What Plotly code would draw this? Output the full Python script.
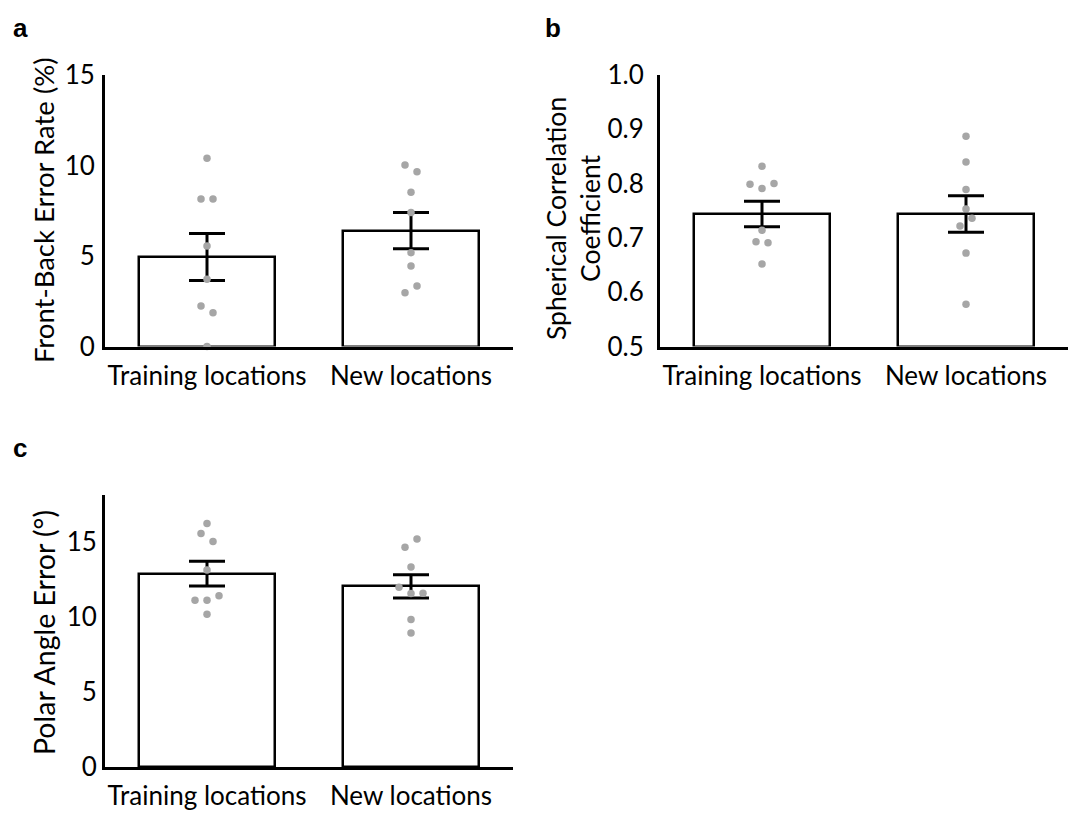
import plotly.graph_objects as go

# ---------------- data ----------------
categories = ["Training locations", "New locations"]

# Panel a: Front-Back error rate (%)
a_means = [4.95, 6.40]
a_sems = [1.30, 1.00]
a_train = [10.4, 8.15, 8.15, 5.55, 3.71, 2.24, 1.87, 0.0]
a_new = [10.03, 9.66, 8.52, 7.41, 5.18, 4.45, 2.97, 3.34]

# Panel b: Spherical correlation coefficient
b_means = [0.744, 0.744]
b_sems = [0.0235, 0.0335]
b_train = [0.832, 0.799, 0.791, 0.800, 0.714, 0.693, 0.691, 0.652]
b_new = [0.887, 0.840, 0.789, 0.753, 0.722, 0.736, 0.672, 0.578]

# Panel c: Polar angle error (deg)
c_means = [12.87, 12.02]
c_sems = [0.82, 0.78]
c_train = [16.2, 15.53, 15.0, 13.11, 11.09, 11.09, 11.40, 10.16]
c_new = [14.62, 15.17, 13.31, 11.96, 11.54, 11.56, 9.81, 8.92]

a_ticks = [0, 5, 10, 15]
b_ticks = [0.5, 0.6, 0.7, 0.8, 0.9, 1.0]
c_ticks = [0, 5, 10, 15]

# ---------------- layout constants ----------------
W, H = 1072, 814
FONT = "Lato"
DOT = "#a6a6a6"

xa_dom = [105 / W, 513 / W]
xb_dom = [660 / W, 1068 / W]
y_top = [1 - 346.5 / H, 1 - 75 / H]
y_bot = [1 - 767 / H, 1 - 495 / H]

a_range = [0, 15]
b_range = [0.5, 1.0]
c_range = [0, 18.1]


def swarm_offsets(vals, yrange, ydom, xdom, thresh_px=8.5, step_px=12):
    """Group close values and spread each group horizontally (category units)."""
    px_per_unit = (ydom[1] - ydom[0]) * H / (yrange[1] - yrange[0])
    px_per_cat = (xdom[1] - xdom[0]) * W / 2.0
    order = sorted(range(len(vals)), key=lambda i: -vals[i])
    groups, cur = [], [order[0]]
    for prev, i in zip(order[:-1], order[1:]):
        if (vals[prev] - vals[i]) * px_per_unit < thresh_px:
            cur.append(i)
        else:
            groups.append(cur)
            cur = [i]
    groups.append(cur)
    offs = [0.0] * len(vals)
    for g in groups:
        g = sorted(g)
        n = len(g)
        for k, i in enumerate(g):
            offs[i] = (k - (n - 1) / 2.0) * step_px / px_per_cat
    return offs


fig = go.Figure()

panels = [
    ("x", "y", a_means, a_sems, [a_train, a_new], a_range, y_top, xa_dom),
    ("x2", "y2", b_means, b_sems, [b_train, b_new], b_range, y_top, xb_dom),
    ("x3", "y3", c_means, c_sems, [c_train, c_new], c_range, y_bot, xa_dom),
]

for xr, yr, means, sems, groups, yrange, ydom, xdom in panels:
    fig.add_trace(go.Bar(
        x=[0, 1], y=[m - yrange[0] for m in means], base=yrange[0],
        width=0.667, xaxis=xr, yaxis=yr,
        marker=dict(color="white", line=dict(color="black", width=2.5)),
        error_y=dict(type="data", array=sems, visible=True,
                     color="black", thickness=3, width=18),
        showlegend=False, hoverinfo="skip",
    ))
    for ci, vals in enumerate(groups):
        offs = swarm_offsets(vals, yrange, ydom, xdom)
        fig.add_trace(go.Scatter(
            x=[ci + o for o in offs], y=vals, mode="markers",
            xaxis=xr, yaxis=yr, cliponaxis=False,
            marker=dict(color=DOT, size=7.5, line=dict(width=0)),
            showlegend=False, hoverinfo="skip",
        ))

xcommon = dict(range=[-0.5, 1.5], tickmode="array", tickvals=[0, 1],
               ticktext=categories, showline=True, linecolor="black",
               linewidth=3, showgrid=False, zeroline=False, ticks="",
               ticklabelstandoff=4, automargin=False,
               tickfont=dict(family=FONT, size=26, color="black"))
ycommon = dict(showline=True, linecolor="black", linewidth=3,
               showgrid=False, zeroline=False, ticks="", automargin=False,
               tickfont=dict(family=FONT, size=26, color="black"))

fig.update_layout(
    width=W, height=H, autosize=False,
    margin=dict(l=0, r=0, t=0, b=0, pad=0, autoexpand=False),
    paper_bgcolor="white", plot_bgcolor="white",
    bargap=0,
    xaxis=dict(domain=xa_dom, anchor="y", **xcommon),
    yaxis=dict(domain=y_top, anchor="x", range=a_range, tickvals=a_ticks,
               ticklabelstandoff=2, **ycommon),
    xaxis2=dict(domain=xb_dom, anchor="y2", **xcommon),
    yaxis2=dict(domain=y_top, anchor="x2", range=b_range, tickvals=b_ticks,
                tickformat=".1f", ticklabelstandoff=8, **ycommon),
    xaxis3=dict(domain=xa_dom, anchor="y3", **xcommon),
    yaxis3=dict(domain=y_bot, anchor="x3", range=c_range, tickvals=c_ticks,
                ticklabelstandoff=0, **ycommon),
)

lfont = dict(family="Liberation Sans, Arial", size=26, color="black")

annos = [
    dict(text="Front-Back Error Rate (%)", x=44 / W, y=1 - 210 / H, textangle=-90,
         font=dict(family=FONT, size=27.5, color="black")),
    dict(text="Spherical Correlation<br>Coefficient", x=573 / W, y=1 - 219 / H, textangle=-90,
         font=dict(family=FONT, size=26.5, color="black")),
    dict(text="Polar Angle Error (°)", x=44 / W, y=1 - 633 / H, textangle=-90,
         font=dict(family=FONT, size=28.5, color="black")),
    dict(text="<b>a</b>", x=20 / W, y=1 - 28 / H, font=lfont),
    dict(text="<b>b</b>", x=553 / W, y=1 - 28 / H, font=lfont),
    dict(text="<b>c</b>", x=20 / W, y=1 - 448 / H, font=lfont),
]
for a in annos:
    fig.add_annotation(xref="paper", yref="paper", showarrow=False,
                       xanchor="center", yanchor="middle", **a)

fig.write_html(
    "out.html",
    config={"displayModeBar": False},
    post_script="document.body.style.margin='0';document.body.style.overflow='hidden';",
)
